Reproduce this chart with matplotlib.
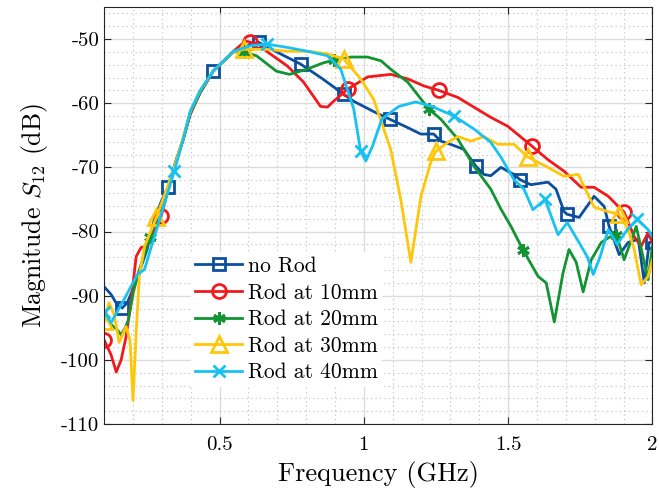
import numpy as np
import matplotlib
matplotlib.use('Agg')
import matplotlib.pyplot as plt
from matplotlib.ticker import MultipleLocator

plt.rcParams['font.family'] = ['cmr10', 'DejaVu Serif']
plt.rcParams['mathtext.fontset'] = 'cm'
plt.rcParams['axes.unicode_minus'] = False
plt.rcParams['axes.formatter.use_mathtext'] = True

# --- data (frequency in GHz, S12 in dB) ---
f_norod = [0.100, 0.124, 0.145, 0.163, 0.180, 0.204, 0.228, 0.249, 0.274, 0.301,
           0.322, 0.350, 0.374, 0.399, 0.433, 0.478, 0.548, 0.607, 0.635, 0.711,
           0.781, 0.857, 0.930, 0.965, 1.034, 1.090, 1.152, 1.197, 1.242, 1.267,
           1.312, 1.347, 1.388, 1.416, 1.440, 1.475, 1.520, 1.541, 1.579, 1.638,
           1.666, 1.694, 1.704, 1.746, 1.798, 1.833, 1.850, 1.885, 1.916, 1.951,
           1.972, 1.989, 2.000]
s_norod = [-88.6, -89.8, -91.4, -91.9, -91.1, -88.6, -85.5, -82.8, -78.1, -75.0,
           -73.0, -68.8, -65.6, -61.4, -58.3, -55.0, -52.0, -50.8, -50.5, -52.3,
           -53.9, -56.2, -58.6, -59.7, -61.3, -62.5, -63.8, -64.8, -64.8, -65.9,
           -66.6, -67.2, -69.8, -71.1, -71.3, -70.0, -71.1, -71.9, -72.7, -72.3,
           -73.4, -76.9, -77.3, -77.8, -74.5, -76.1, -79.2, -83.6, -81.7, -81.2,
           -88.0, -81.7, -81.6]
m_norod = [0.163, 0.322, 0.478, 0.635, 0.781, 0.930, 1.090, 1.242, 1.388,
           1.541, 1.704, 1.850, 2.000]

f_rod10 = [0.100, 0.124, 0.142, 0.159, 0.176, 0.194, 0.211, 0.228, 0.249, 0.274,
           0.298, 0.322, 0.350, 0.374, 0.399, 0.433, 0.478, 0.548, 0.590, 0.607,
           0.635, 0.666, 0.735, 0.791, 0.850, 0.874, 0.895, 0.944, 1.013, 1.093,
           1.152, 1.208, 1.260, 1.326, 1.381, 1.440, 1.499, 1.583, 1.638, 1.694,
           1.753, 1.798, 1.847, 1.902, 1.937, 1.961, 1.985, 2.000]
s_rod10 = [-96.9, -99.2, -101.9, -100.0, -96.4, -90.6, -83.9, -82.5, -82.2, -80.0,
           -77.6, -73.4, -69.1, -65.6, -61.7, -58.3, -55.0, -51.9, -50.3, -50.5,
           -50.8, -52.0, -54.2, -56.7, -60.5, -60.6, -59.7, -57.8, -55.9, -55.5,
           -56.2, -57.3, -58.0, -59.1, -60.6, -62.2, -63.6, -66.7, -68.8, -70.6,
           -73.1, -73.1, -74.5, -77.0, -80.8, -82.3, -80.2, -81.7]
m_rod10 = [0.100, 0.298, 0.607, 0.944, 1.260, 1.583, 1.902]

f_rod20 = [0.100, 0.124, 0.145, 0.159, 0.173, 0.184, 0.201, 0.219, 0.260, 0.281,
           0.320, 0.350, 0.374, 0.399, 0.433, 0.478, 0.548, 0.583, 0.628, 0.697,
           0.742, 0.802, 0.860, 0.896, 0.955, 1.013, 1.060, 1.093, 1.152, 1.225,
           1.267, 1.326, 1.381, 1.440, 1.475, 1.510, 1.551, 1.604, 1.632, 1.660,
           1.690, 1.711, 1.736, 1.760, 1.788, 1.823, 1.850, 1.875, 1.902, 1.944,
           1.985, 2.000]
s_rod20 = [-93.0, -94.5, -95.3, -96.1, -95.0, -93.8, -89.5, -86.4, -80.8, -78.1,
           -73.2, -69.0, -65.6, -61.5, -58.3, -55.0, -52.0, -52.0, -52.6, -55.0,
           -55.5, -54.7, -53.7, -53.3, -52.8, -52.8, -53.4, -54.7, -56.7, -60.9,
           -62.5, -65.6, -69.8, -73.4, -76.5, -79.2, -82.8, -87.0, -88.0, -94.1,
           -86.5, -82.8, -84.8, -89.4, -84.4, -81.7, -80.9, -80.5, -84.4, -79.2,
           -87.5, -82.3]
m_rod20 = [0.260, 0.583, 0.896, 1.225, 1.551, 1.875]

f_rod30 = [0.100, 0.117, 0.135, 0.152, 0.176, 0.190, 0.200, 0.212, 0.222, 0.240,
           0.281, 0.320, 0.350, 0.374, 0.399, 0.433, 0.478, 0.548, 0.583, 0.666,
           0.735, 0.805, 0.874, 0.930, 0.989, 1.034, 1.093, 1.128, 1.163, 1.198,
           1.232, 1.249, 1.291, 1.326, 1.371, 1.416, 1.465, 1.520, 1.569, 1.638,
           1.694, 1.743, 1.798, 1.847, 1.885, 1.916, 1.937, 1.961, 1.985, 2.000]
s_rod30 = [-94.0, -91.1, -93.0, -97.3, -94.8, -97.0, -106.3, -95.0, -87.0, -82.3,
           -77.8, -73.0, -69.0, -65.3, -61.2, -58.0, -55.0, -52.0, -51.6, -51.6,
           -51.9, -51.9, -52.3, -53.1, -56.2, -59.4, -67.2, -75.0, -84.8, -74.5,
           -69.2, -67.5, -66.1, -65.2, -65.9, -65.2, -66.4, -66.4, -68.4, -70.0,
           -71.4, -71.1, -76.2, -76.9, -77.3, -79.7, -82.8, -88.3, -87.0, -84.4]
m_rod30 = [0.100, 0.281, 0.583, 0.930, 1.249, 1.569, 1.885]

f_rod40 = [0.100, 0.124, 0.169, 0.215, 0.240, 0.264, 0.300, 0.343, 0.374, 0.399,
           0.433, 0.478, 0.548, 0.611, 0.666, 0.735, 0.805, 0.874, 0.920, 0.965,
           0.989, 1.007, 1.030, 1.062, 1.121, 1.180, 1.236, 1.313, 1.381, 1.440,
           1.475, 1.520, 1.555, 1.586, 1.628, 1.673, 1.705, 1.739, 1.774, 1.795,
           1.819, 1.847, 1.878, 1.913, 1.948, 1.985, 2.000]
s_rod40 = [-92.5, -94.2, -90.6, -86.7, -85.9, -82.3, -77.0, -70.6, -65.6, -61.2,
           -58.0, -55.0, -51.9, -51.0, -50.8, -51.3, -51.9, -52.6, -54.7, -60.9,
           -67.5, -69.0, -66.7, -62.5, -60.5, -59.8, -60.5, -62.0, -64.0, -66.1,
           -68.4, -71.9, -73.4, -76.6, -75.0, -80.5, -78.6, -81.2, -83.9, -86.7,
           -83.9, -79.7, -82.0, -79.7, -78.1, -79.7, -80.8]
m_rod40 = [0.100, 0.343, 0.666, 0.989, 1.313, 1.628, 1.948]

series = [
    ('no Rod', f_norod, s_norod, m_norod, '#0c4f9e', 's', 9),
    ('Rod at 10mm', f_rod10, s_rod10, m_rod10, '#f2191d', 'o', 10),
    ('Rod at 20mm', f_rod20, s_rod20, m_rod20, '#119431', (6, 2, 0), 9),
    ('Rod at 30mm', f_rod30, s_rod30, m_rod30, '#ffc60a', '^', 11),
    ('Rod at 40mm', f_rod40, s_rod40, m_rod40, '#17c2f2', 'x', 8),
]

fig = plt.figure(figsize=(6.59, 5.0), dpi=100)
ax = fig.add_axes([0.158, 0.152, 0.832, 0.834])

for name, f, s, marks, col, mk, ms in series:
    f = np.array(f)
    idx = [int(np.argmin(np.abs(f - m))) for m in marks]
    ax.plot(f, s, color=col, lw=2.0, marker=mk, markevery=idx, ms=ms,
            mfc='none', mec=col, mew=2.0, label=name)

ax.set_xlim(0.1, 2.0)
ax.set_ylim(-110, -45)
ax.set_xticks([0.5, 1.0, 1.5, 2.0])
ax.set_xticklabels(['0.5', '1', '1.5', '2'])
ax.set_yticks(np.arange(-110, -49, 10))
ax.set_yticklabels([str(v) for v in range(-110, -49, 10)])
ax.xaxis.set_minor_locator(MultipleLocator(0.1))
ax.yaxis.set_minor_locator(MultipleLocator(2))

ax.grid(which='major', color='#dcdcdc', lw=1.0, ls='-')
ax.grid(which='minor', color='#bdbdbd', lw=0.8, ls=(0, (1, 3)))
ax.set_axisbelow(True)
ax.tick_params(which='major', direction='in', top=True, right=True, length=5,
               labelsize=15, color='#262626')
ax.tick_params(axis='x', which='major', pad=9)
ax.tick_params(which='minor', length=0)
for sp in ax.spines.values():
    sp.set_color('#262626')
    sp.set_linewidth(0.8)

ax.set_xlabel('Frequency (GHz)', fontsize=19, labelpad=5)
ax.set_ylabel('Magnitude $S_{12}$ (dB)', fontsize=18.5, labelpad=8)

leg = ax.legend(loc='upper left', bbox_to_anchor=(0.138, 0.438), fontsize=15.5,
                frameon=True, fancybox=False, framealpha=1.0, edgecolor='none',
                handlelength=2.2, handletextpad=0.25, labelspacing=0.33,
                borderpad=0.2)

fig.savefig('out.png', dpi=100)
